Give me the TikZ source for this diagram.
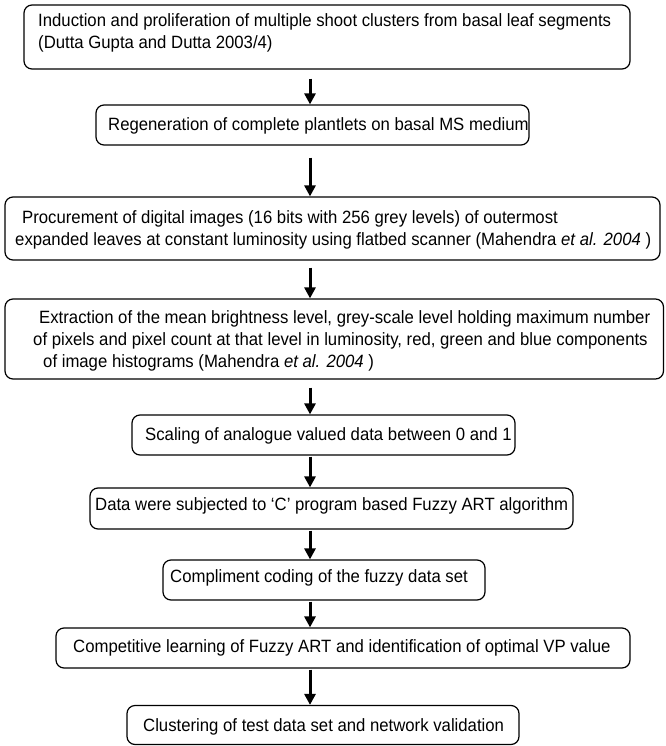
\documentclass[tikz,border=0pt]{standalone}
\usepackage{fontspec}
\setmainfont{Liberation Sans}[FakeStretch=0.94]
\usetikzlibrary{arrows.meta}
\begin{document}
\begin{tikzpicture}[x=1pt,y=-1pt,
  box/.style={draw=black, line width=1.2pt, rounded corners=8pt, inner sep=0pt},
  txt/.style={anchor=base west, inner sep=0pt, font=\fontsize{17.8}{20}\selectfont},
  arr/.style={line width=3pt, -{Triangle[width=11pt,length=11pt]}}]
\useasboundingbox (0,0) rectangle (665,746);
\fill[white] (0,0) rectangle (665,746);
\coordinate (ax) at (310,0);
% boxes
\node[box, minimum width=606pt, minimum height=64pt] (b1) at (327,37) {};
\node[box, minimum width=433pt, minimum height=40pt] (b2) at (312.5,125) {};
\node[box, minimum width=655pt, minimum height=63pt] (b3) at (332.5,228.5) {};
\node[box, minimum width=658.5pt, minimum height=80pt] (b4) at (334.25,339) {};
\node[box, minimum width=383pt, minimum height=40pt] (b5) at (323.5,435) {};
\node[box, minimum width=483pt, minimum height=41pt] (b6) at (331.5,508.5) {};
\node[box, minimum width=322pt, minimum height=40pt] (b7) at (324,580) {};
\node[box, minimum width=574pt, minimum height=40pt] (b8) at (343,648) {};
\node[box, minimum width=392pt, minimum height=39pt] (b9) at (323,725) {};
% texts
\node[txt] (t1a) at (38,27) {Induction and proliferation of multiple shoot clusters from basal leaf segments};
\node[txt] (t1b) at (38,49) {(Dutta Gupta and Dutta 2003/4)};
\node[txt] (t2) at (108,131) {Regeneration of complete plantlets on basal MS medium};
\node[txt] (t3a) at (22,223) {Procurement of digital images (16 bits with 256 grey levels) of outermost};
\node[txt] (t3b) at (15,245) {expanded leaves at constant luminosity using flatbed scanner (Mahendra \textit{et al. 2004} )};
\node[txt] (t4a) at (39,323) {Extraction of the mean brightness level, grey-scale level holding maximum number};
\node[txt] (t4b) at (33,345) {of pixels and pixel count at that level in luminosity, red, green and blue components};
\node[txt] (t4c) at (43,367) {of image histograms (Mahendra \textit{et al. 2004} )};
\node[txt] (t5) at (145,440) {Scaling of analogue valued data between 0 and 1};
\node[txt] (t6) at (95,510) {Data were subjected to ‘C’ program based Fuzzy ART algorithm};
\node[txt] (t7) at (170,582) {Compliment coding of the fuzzy data set};
\node[txt] (t8) at (73,652) {Competitive learning of Fuzzy ART and identification of optimal VP value};
\node[txt] (t9) at (143,731) {Clustering of test data set and network validation};
% arrows
\draw[arr, shorten <=9pt] (b1.south -| ax) -- (b2.north -| ax);
\draw[arr, shorten <=12pt] (b2.south -| ax) -- (b3.north -| ax);
\draw[arr, shorten <=7pt] (b3.south -| ax) -- (b4.north -| ax);
\draw[arr, shorten <=8pt] (b4.south -| ax) -- (b5.north -| ax);
\draw[arr, shorten <=1pt] (b5.south -| ax) -- (b6.north -| ax);
\draw[arr, shorten <=1pt] (b6.south -| ax) -- (b7.north -| ax);
\draw[arr, shorten <=1pt] (b7.south -| ax) -- (b8.north -| ax);
\draw[arr, shorten <=1pt] (b8.south -| ax) -- (b9.north -| ax);
\end{tikzpicture}
\end{document}
